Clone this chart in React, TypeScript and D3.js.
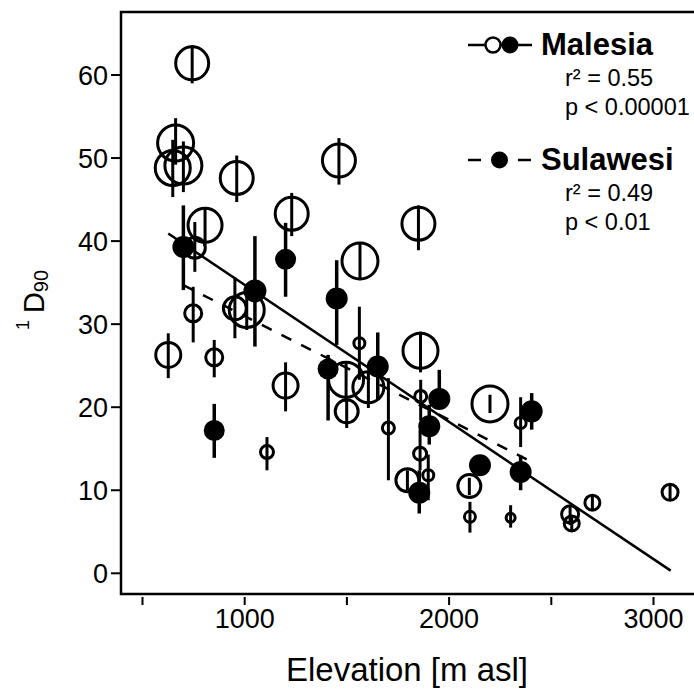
import React from "react";
import * as d3 from "d3";

// ---------- Data ----------
// Malesia plots (open circles): elevation [m asl], 1D90, error-bar low/high, marker weight
const malesiaElev = [743, 662, 648, 700, 961, 1461, 1230, 1850, 806, 756, 748, 626, 851, 1200, 952, 1010, 1564, 1860, 1496, 1605, 1499, 1561, 1703, 1861, 1858, 1898, 1796, 2200, 2099, 2102, 2301, 2350, 2592, 2600, 2701, 3081, 1109];
const malesiaD90 = [61.4, 51.8, 48.8, 49.1, 47.6, 49.7, 43.3, 42.1, 41.9, 39.2, 31.3, 26.3, 26.0, 22.6, 31.9, 31.7, 37.6, 26.8, 23.3, 22.4, 19.5, 27.7, 17.5, 21.3, 14.4, 11.8, 11.2, 20.4, 10.5, 6.8, 6.7, 18.1, 7.1, 6.0, 8.5, 9.75, 14.6];
const malesiaLo = [59.0, 49.2, 45.3, 45.9, 44.7, 46.8, 40.6, 38.9, 39.5, 36.3, 27.8, 23.5, 23.6, 19.5, 28.3, 29.3, 35.3, 24.2, 20.6, 19.9, 17.5, 23.3, 11.2, 18.4, 12.4, 8.8, 10.0, 19.3, 9.4, 4.9, 5.5, 15.2, 5.8, 5.0, 7.6, 8.8, 12.4];
const malesiaHi = [63.6, 54.8, 52.2, 52.0, 50.3, 52.4, 45.8, 44.3, 44.1, 42.3, 34.5, 28.9, 28.1, 25.4, 35.6, 34.1, 39.9, 29.1, 25.4, 24.2, 21.2, 32.1, 23.5, 23.3, 17.3, 14.3, 12.4, 21.5, 11.5, 8.6, 8.2, 21.2, 8.2, 7.0, 9.4, 10.7, 16.4];
const malesiaWeight = [18, 19.5, 19, 20, 18, 18, 18, 18, 18.5, 12, 10, 14, 10, 14, 13, 19, 19.5, 19, 19, 17, 13, 7, 7.5, 7.5, 8, 7, 13, 19.5, 13, 7, 6, 7, 10, 9, 9, 9.5, 8];

// Sulawesi plots (filled circles)
const sulawesiElev = [700, 851, 1050, 1200, 1450, 1408, 1651, 1952, 1903, 1854, 2151, 2350, 2404];
const sulawesiD90 = [39.3, 17.2, 34.0, 37.8, 33.1, 24.6, 24.9, 21.0, 17.7, 9.7, 13.0, 12.2, 19.5];
const sulawesiLo = [34.1, 13.9, 27.3, 33.3, 27.5, 18.4, 20.9, 20.0, 15.5, 7.2, 12.0, 10.0, 17.3];
const sulawesiHi = [44.3, 20.4, 40.6, 42.2, 37.7, 26.3, 29.0, 24.5, 20.3, 12.4, 14.0, 14.2, 21.7];
const sulawesiWeight = [11, 10.5, 11.5, 10.5, 11, 10.5, 11, 11, 11, 11, 11, 11, 11];

// Regression fits: [intercept, slope, fromElev, toElev]
const malesiaFit = [51.24, -0.01651, 626, 3084];
const sulawesiFit = [43.45, -0.01249, 700, 2405];

const xTicks = [500, 1000, 1500, 2000, 2500, 3000];
const xTickLabels = ["", "1000", "", "2000", "", "3000"];
const yTicks = [0, 10, 20, 30, 40, 50, 60];

const legendMalesia = ["Malesia", "r² = 0.55", "p < 0.00001"];
const legendSulawesi = ["Sulawesi", "r² = 0.49", "p < 0.01"];

// ---------- Chart ----------
const W = 694;
const H = 695;
const left = 121;
const top = 12;
const bottom = 594;
const FONT = "'Liberation Sans', Arial, Helvetica, sans-serif";

export default function App() {
  const x = d3.scaleLinear().domain([500, 3000]).range([142.5, 653.5]);
  const y = d3.scaleLinear().domain([0, 60]).range([573.3, 75]);
  const r = d3.scaleLinear().domain([0, 20]).range([0, 20]);

  const malesia = malesiaElev.map((e, i) => ({
    e, v: malesiaD90[i], lo: malesiaLo[i], hi: malesiaHi[i], w: malesiaWeight[i],
  }));
  const sulawesi = sulawesiElev.map((e, i) => ({
    e, v: sulawesiD90[i], lo: sulawesiLo[i], hi: sulawesiHi[i], w: sulawesiWeight[i],
  }));

  const fitLine = (fit: number[]) => {
    const [a, b, from, to] = fit;
    const pts: [number, number][] = [from, to].map((e) => [x(e), y(a + b * e)]);
    return d3.line()(pts) || "";
  };

  const sw = 3;

  return (
    <div style={{ position: "fixed", left: 0, top: 0, width: W, height: H, background: "#fff" }}>
      <svg width={W} height={H} style={{ display: "block" }} fontFamily={FONT}>
        <rect x={0} y={0} width={W} height={H} fill="#fff" />
        {/* plot frame */}
        <path d={`M${W},${top}H${left}V${bottom}H${W}`} fill="none" stroke="#000" strokeWidth={2.5} />

        {/* y axis ticks */}
        {yTicks.map((t) => (
          <g key={"y" + t}>
            <line x1={111} x2={left} y1={y(t)} y2={y(t)} stroke="#000" strokeWidth={2} />
            <text x={108} y={y(t)} dy="0.36em" textAnchor="end" fontSize={27} fill="#000">
              {t}
            </text>
          </g>
        ))}

        {/* x axis ticks */}
        {xTicks.map((t, i) => (
          <g key={"x" + t}>
            <line x1={x(t)} x2={x(t)} y1={597} y2={605} stroke="#000" strokeWidth={2} />
            {xTickLabels[i] && (
              <text x={x(t)} y={628} textAnchor="middle" fontSize={27} fill="#000">
                {xTickLabels[i]}
              </text>
            )}
          </g>
        ))}

        {/* axis titles */}
        <text x={407} y={681} textAnchor="middle" fontSize={33} fill="#000">
          Elevation [m asl]
        </text>
        <text transform="translate(44,300) rotate(-90)" textAnchor="middle" fill="#000">
          <tspan fontSize={18} dy={-15}>1</tspan>
          <tspan fontSize={29} dx={7} dy={15}>D</tspan>
          <tspan fontSize={20} dy={4}>90</tspan>
        </text>

        {/* error bars */}
        {malesia.map((d, i) => (
          <line key={"me" + i} x1={x(d.e)} x2={x(d.e)} y1={y(d.lo)} y2={y(d.hi)} stroke="#000" strokeWidth={sw} />
        ))}
        {sulawesi.map((d, i) => (
          <line key={"se" + i} x1={x(d.e)} x2={x(d.e)} y1={y(d.lo)} y2={y(d.hi)} stroke="#000" strokeWidth={sw + 0.5} />
        ))}

        {/* markers */}
        {malesia.map((d, i) => (
          <circle key={"mc" + i} cx={x(d.e)} cy={y(d.v)} r={r(d.w) - 1.5} fill="none" stroke="#000" strokeWidth={sw} />
        ))}
        {sulawesi.map((d, i) => (
          <circle key={"sc" + i} cx={x(d.e)} cy={y(d.v)} r={r(d.w)} fill="#000" />
        ))}

        {/* regression lines */}
        <path d={fitLine(malesiaFit)} stroke="#000" strokeWidth={2.5} fill="none" />
        <path d={fitLine(sulawesiFit)} stroke="#000" strokeWidth={2.5} fill="none" strokeDasharray="11,11" />

        {/* legend */}
        <g>
          <line x1={468} x2={532} y1={45} y2={45} stroke="#000" strokeWidth={2.5} />
          <circle cx={493} cy={45} r={7.5} fill="#fff" stroke="#000" strokeWidth={2.5} />
          <circle cx={510} cy={45} r={8.5} fill="#000" />
          <text x={541} y={55} fontSize={31} fontWeight="bold" fill="#000">{legendMalesia[0]}</text>
          <text x={565} y={86} fontSize={23.5} fill="#000">{legendMalesia[1]}</text>
          <text x={565} y={115} fontSize={23.5} fill="#000">{legendMalesia[2]}</text>

          <line x1={468} x2={481} y1={160} y2={160} stroke="#000" strokeWidth={2.5} />
          <line x1={518} x2={531} y1={160} y2={160} stroke="#000" strokeWidth={2.5} />
          <circle cx={499.5} cy={160} r={8.5} fill="#000" />
          <text x={541} y={170} fontSize={31} fontWeight="bold" fill="#000">{legendSulawesi[0]}</text>
          <text x={565} y={201} fontSize={23.5} fill="#000">{legendSulawesi[1]}</text>
          <text x={565} y={230} fontSize={23.5} fill="#000">{legendSulawesi[2]}</text>
        </g>
      </svg>
    </div>
  );
}
